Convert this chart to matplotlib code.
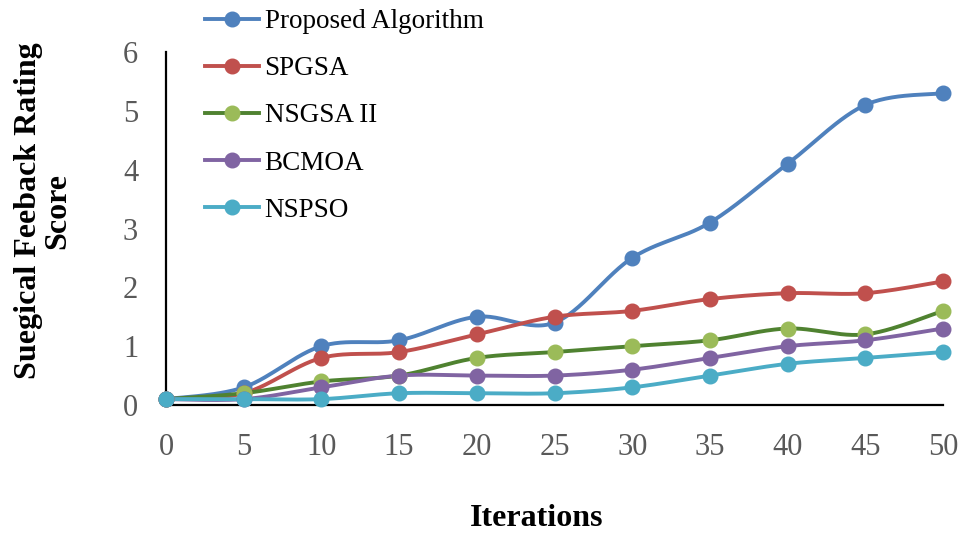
import numpy as np
import matplotlib
matplotlib.use("Agg")
import matplotlib.pyplot as plt
from matplotlib.lines import Line2D

plt.rcParams['font.family'] = ['Liberation Serif', 'DejaVu Serif']

iterations = [0, 5, 10, 15, 20, 25, 30, 35, 40, 45, 50]
proposed = [0.1, 0.3, 1.0, 1.1, 1.5, 1.4, 2.5, 3.1, 4.1, 5.1, 5.3]
spgsa = [0.1, 0.2, 0.8, 0.9, 1.2, 1.5, 1.6, 1.8, 1.9, 1.9, 2.1]
nsgsa2 = [0.1, 0.2, 0.4, 0.5, 0.8, 0.9, 1.0, 1.1, 1.3, 1.2, 1.6]
bcmoa = [0.1, 0.1, 0.3, 0.5, 0.5, 0.5, 0.6, 0.8, 1.0, 1.1, 1.3]
nspso = [0.1, 0.1, 0.1, 0.2, 0.2, 0.2, 0.3, 0.5, 0.7, 0.8, 0.9]

series = [
    ("Proposed Algorithm", proposed, "#4F81BD", "#4F81BD"),
    ("SPGSA", spgsa, "#C0504D", "#C0504D"),
    ("NSGSA II", nsgsa2, "#4F8230", "#9BBB59"),
    ("BCMOA", bcmoa, "#8064A2", "#8064A2"),
    ("NSPSO", nspso, "#4BACC6", "#4BACC6"),
]


def smooth(x, y, n=30, tension=0.5):
    """Cardinal spline passing through every data point."""
    x = np.asarray(x, float)
    y = np.asarray(y, float)
    px = np.concatenate([[x[0]], x, [x[-1]]])
    py = np.concatenate([[y[0]], y, [y[-1]]])
    xs, ys = [], []
    t = np.linspace(0, 1, n)
    h00 = 2 * t**3 - 3 * t**2 + 1
    h10 = t**3 - 2 * t**2 + t
    h01 = -2 * t**3 + 3 * t**2
    h11 = t**3 - t**2
    for i in range(1, len(px) - 2):
        p0, p1, p2, p3 = (np.array([px[j], py[j]]) for j in (i - 1, i, i + 1, i + 2))
        m1 = tension * (p2 - p0)
        m2 = tension * (p3 - p1)
        pts = (np.outer(h00, p1) + np.outer(h10, m1)
               + np.outer(h01, p2) + np.outer(h11, m2))
        xs.extend(pts[:, 0])
        ys.extend(pts[:, 1])
    return np.array(xs), np.array(ys)


fig = plt.figure(figsize=(9.63, 5.37), dpi=100)
ax = fig.add_axes([166 / 963, 1 - 405 / 537, (943 - 166) / 963, (405 - 52) / 537])

LW = 2.8
handles = []
for name, vals, lc, mc in series:
    sx, sy = smooth(iterations, vals)
    ax.plot(sx, sy, color=lc, lw=LW, solid_capstyle='round', zorder=2, clip_on=False)
    ax.plot(iterations, vals, 'o', color=mc, ms=10.5, mec=mc, zorder=3, clip_on=False)
    handles.append(Line2D([0], [0], color=lc, lw=LW, marker='o', ms=10.5,
                          mfc=mc, mec=mc, label=name))

ax.set_xlim(0, 50)
ax.set_ylim(0, 6)
ax.set_xticks(iterations)
ax.set_yticks(range(0, 7))
ax.tick_params(length=0, labelsize=22, labelcolor='#595959')
ax.tick_params(axis='y', pad=20)
ax.tick_params(axis='x', pad=20)
for s in ('top', 'right'):
    ax.spines[s].set_visible(False)
for s in ('left', 'bottom'):
    ax.spines[s].set_linewidth(1.6)
    ax.spines[s].set_color('black')

fig.text(537 / 963, 1 - 518 / 537, "Iterations", ha='center', va='center',
         fontsize=23, fontweight='bold')
fig.text(43 / 963, 1 - 211 / 537, "Suegical Feeback Rating\nScore", ha='center',
         va='center', rotation=90, fontsize=23, fontweight='bold', linespacing=1.0)

fig.legend(handles=handles, loc='upper left', bbox_to_anchor=(205 / 963, 1 - 9 / 537),
           frameon=False, fontsize=19.5, labelspacing=0.82, handlelength=2.0,
           handletextpad=0.2, borderaxespad=0, borderpad=0)

fig.savefig("out.png", dpi=100)
